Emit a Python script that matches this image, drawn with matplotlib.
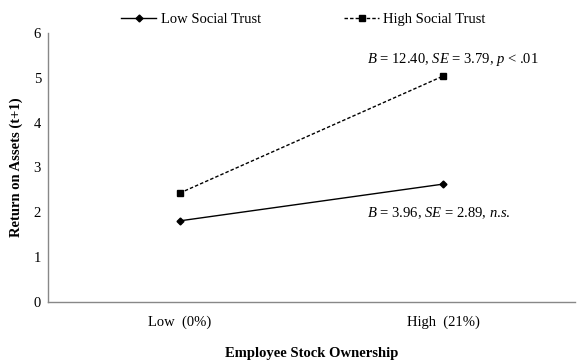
import matplotlib
matplotlib.use("Agg")
import matplotlib.pyplot as plt

plt.rcParams['font.family'] = 'Liberation Serif'
plt.rcParams['mathtext.fontset'] = 'custom'
plt.rcParams['mathtext.rm'] = 'Liberation Serif'
plt.rcParams['mathtext.it'] = 'Liberation Serif:italic'

# data
categories = ['Low  (0%)', 'High  (21%)']
low_trust = [1.81, 2.63]
high_trust = [2.43, 5.04]
note_high = '$B$ = 12.40, $SE$ = 3.79, $p$ < .01'
note_low = '$B$ = 3.96, $SE$ = 2.89, $n$.$s$.'

fs = 10.5
fig = plt.figure(figsize=(5.8, 3.64), dpi=100)
ax = fig.add_axes([48/580, 62/364, 527/580, 269/364])

x = range(len(categories))
ax.plot(x, low_trust, color='black', lw=1.0, marker='D', ms=3.5, label='Low Social Trust')
ax.plot(x, high_trust, color='black', lw=1.0, ls=(0, (2.5, 1.5)), marker='s', ms=5,
        label='High Social Trust')

ax.set_xlim(-0.5, 1.5)
ax.set_ylim(0, 6)
ax.set_xticks(list(x))
ax.set_xticklabels(categories, fontsize=fs)
ax.set_yticks(range(7))
ax.tick_params(axis='y', length=0, labelsize=fs, pad=5)
ax.tick_params(axis='x', length=0, labelsize=fs, pad=10)
for s in ['top', 'right']:
    ax.spines[s].set_visible(False)
for s in ['left', 'bottom']:
    ax.spines[s].set_color('#888888')
    ax.spines[s].set_linewidth(1.0)

ax.set_ylabel('Return on Assets (t+1)', fontsize=fs, fontweight='bold', labelpad=8)
ax.set_xlabel('Employee Stock Ownership', fontsize=fs, fontweight='bold', labelpad=13)

ax.text(0.71, 5.4, note_high, fontsize=fs, ha='left', va='center')
ax.text(0.71, 1.99, note_low, fontsize=fs, ha='left', va='center')

ax.legend(loc='lower center', bbox_to_anchor=(0.485, 1.0), ncol=2, frameon=False,
          fontsize=fs, handlelength=2.4, handletextpad=0.3, columnspacing=5.7,
          borderaxespad=0.1)

fig.savefig('out.png', dpi=100)
